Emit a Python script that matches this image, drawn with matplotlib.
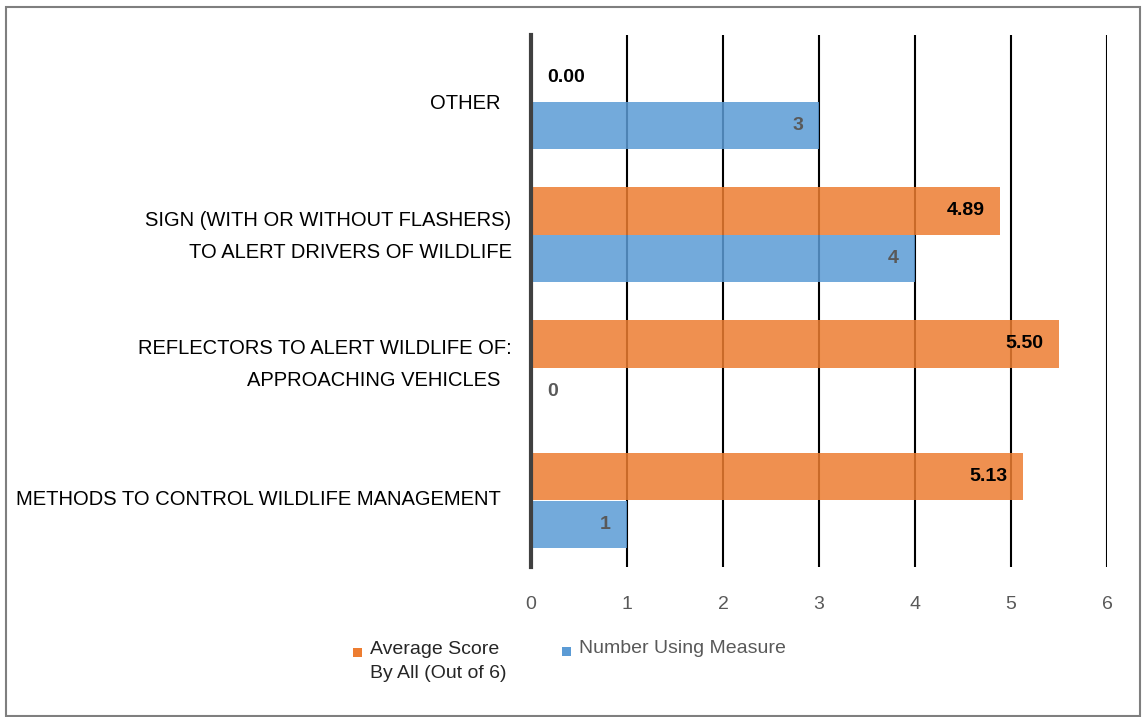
import matplotlib
matplotlib.use("Agg")
import matplotlib.pyplot as plt
from matplotlib.patches import Rectangle
import matplotlib.transforms as mtransforms
import numpy as np

categories = ["OTHER  ",
              "SIGN (WITH OR WITHOUT FLASHERS)\nTO ALERT DRIVERS OF WILDLIFE",
              "REFLECTORS TO ALERT WILDLIFE OF:\nAPPROACHING VEHICLES  ",
              "METHODS TO CONTROL WILDLIFE MANAGEMENT  "]
avg_score = [0.00, 4.89, 5.50, 5.13]
num_using = [3, 4, 0, 1]
avg_labels = ["0.00", "4.89", "5.50", "5.13"]
num_labels = ["3", "4", "0", "1"]
xticks = [0, 1, 2, 3, 4, 5, 6]
legend_labels = ["Average Score\nBy All (Out of 6)", "Number Using Measure"]

plt.rcParams['font.family'] = ['Liberation Sans', 'DejaVu Sans']

W, H = 1143, 717
fig = plt.figure(figsize=(W / 100, H / 100), dpi=100)
ax = fig.add_axes([531 / W, 1 - 567 / H, (1107 - 531) / W, (567 - 35) / H])

orange = "#ED7D31"
blue = "#5B9BD5"
y = np.arange(len(categories))
h = 0.36
b1 = ax.barh(y - h / 2, avg_score, height=h, color=orange, alpha=0.85, zorder=3)
b2 = ax.barh(y + h / 2, num_using, height=h, color=blue, alpha=0.85, zorder=3)

def put(vals, labs, ys, col):
    for yy, v, lab in zip(ys, vals, labs):
        if v == 0:
            ax.annotate(lab, (v, yy), xytext=(16, 0), textcoords="offset pixels",
                        ha="left", va="center", fontsize=14, fontweight="bold", color=col, zorder=5)
        else:
            ax.annotate(lab, (v, yy), xytext=(-16, 0), textcoords="offset pixels",
                        ha="right", va="center", fontsize=14, fontweight="bold", color=col, zorder=5)

put(avg_score, avg_labels, y - h / 2, "black")
put(num_using, num_labels, y + h / 2, "#595959")

ax.set_xlim(0, 6)
ax.set_ylim(len(categories) - 0.5, -0.5)
ax.set_xticks(xticks)
ax.set_xticklabels([str(t) for t in xticks])
ax.set_yticks(y)
ax.set_yticklabels(categories, multialignment="right", linespacing=1.8)
ax.xaxis.grid(True, color="black", linewidth=1.5, zorder=1)
ax.set_axisbelow(True)
for s in ["top", "right", "bottom"]:
    ax.spines[s].set_visible(False)
ax.spines["left"].set_color("#404040")
ax.spines["left"].set_linewidth(3)
ax.spines["left"].set_zorder(4)
ax.tick_params(axis="x", length=0, pad=21, labelsize=14, labelcolor="#595959")
ax.tick_params(axis="y", length=0, pad=14, labelsize=14.5, labelcolor="black")
yshift = [-2, -2, 3, 1]
for t, d in zip(ax.get_yticklabels(), yshift):
    t.set_va("center")
    t.set_transform(t.get_transform() + mtransforms.ScaledTranslation(0, d / 100, fig.dpi_scale_trans))

# legend (manual)
def px(x, yv):
    return x / W, 1 - yv / H
sq = 9
for (lx, ly), col, lab, tc in [((353, 652), orange, legend_labels[0], "#262626"),
                                ((562, 651), blue, legend_labels[1], "#595959")]:
    fig.patches.append(Rectangle(px(lx, ly + sq / 2), sq / W, sq / H, transform=fig.transFigure,
                                 facecolor=col, edgecolor="none"))
    fig.text(*px(lx + 17, ly - 11), lab, ha="left", va="top", fontsize=14, color=tc, linespacing=1.55)

# border
fig.patches.append(Rectangle(px(6, 716), (1140 - 6) / W, (716 - 7) / H, transform=fig.transFigure,
                             facecolor="none", edgecolor="#7F7F7F", linewidth=1.5))

fig.savefig("out.png", dpi=100)
